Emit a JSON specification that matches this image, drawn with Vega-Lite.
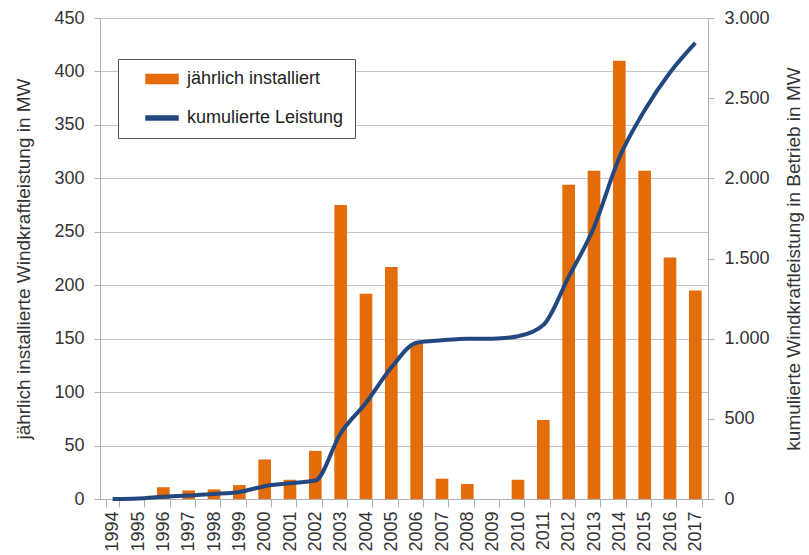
{
  "$schema": "https://vega.github.io/schema/vega-lite/v6.json",
  "autosize": "none",
  "width": 608,
  "height": 481,
  "padding": {"left": 100, "top": 18, "right": 101, "bottom": 56},
  "background": "white",
  "config": {
    "font": "Liberation Sans",
    "view": {"stroke": null},
    "axis": {
      "labelFont": "Liberation Sans",
      "titleFont": "Liberation Sans",
      "labelFontSize": 18,
      "titleFontSize": 19,
      "labelColor": "#333333",
      "titleColor": "#333333",
      "titleFontWeight": "normal",
      "domainColor": "#b0b0b0",
      "tickColor": "#b0b0b0",
      "gridColor": "#c4c4c4"
    }
  },
  "data": {
    "values": [
      {"Jahr": "1994", "jaehrlich": 0, "kumuliert": 0},
      {"Jahr": "1995", "jaehrlich": 0, "kumuliert": 3},
      {"Jahr": "1996", "jaehrlich": 11, "kumuliert": 14},
      {"Jahr": "1997", "jaehrlich": 8, "kumuliert": 22},
      {"Jahr": "1998", "jaehrlich": 9, "kumuliert": 31},
      {"Jahr": "1999", "jaehrlich": 13, "kumuliert": 44},
      {"Jahr": "2000", "jaehrlich": 37, "kumuliert": 80},
      {"Jahr": "2001", "jaehrlich": 18, "kumuliert": 98},
      {"Jahr": "2002", "jaehrlich": 45, "kumuliert": 115},
      {"Jahr": "2003", "jaehrlich": 275, "kumuliert": 410},
      {"Jahr": "2004", "jaehrlich": 192, "kumuliert": 600},
      {"Jahr": "2005", "jaehrlich": 217, "kumuliert": 820},
      {"Jahr": "2006", "jaehrlich": 146, "kumuliert": 975},
      {"Jahr": "2007", "jaehrlich": 19, "kumuliert": 990},
      {"Jahr": "2008", "jaehrlich": 14, "kumuliert": 1000},
      {"Jahr": "2009", "jaehrlich": 0, "kumuliert": 1000},
      {"Jahr": "2010", "jaehrlich": 18, "kumuliert": 1015},
      {"Jahr": "2011", "jaehrlich": 74, "kumuliert": 1085},
      {"Jahr": "2012", "jaehrlich": 294, "kumuliert": 1385},
      {"Jahr": "2013", "jaehrlich": 307, "kumuliert": 1695},
      {"Jahr": "2014", "jaehrlich": 410, "kumuliert": 2130},
      {"Jahr": "2015", "jaehrlich": 307, "kumuliert": 2425},
      {"Jahr": "2016", "jaehrlich": 226, "kumuliert": 2660},
      {"Jahr": "2017", "jaehrlich": 195, "kumuliert": 2845}
    ]
  },
  "encoding": {
    "x": {
      "field": "Jahr",
      "type": "nominal",
      "scale": {"paddingInner": 0.5, "paddingOuter": 0.25},
      "axis": {
        "title": null,
        "labelAngle": -90,
        "labelAlign": "right",
        "labelBaseline": "middle",
        "labelPadding": 4,
        "tickBand": "extent",
        "tickSize": 8,
        "domainColor": "#b0b0b0"
      }
    }
  },
  "layer": [
    {
      "mark": {"type": "bar", "color": "#E46C0A"},
      "encoding": {
        "y": {
          "field": "jaehrlich",
          "type": "quantitative",
          "scale": {"domain": [0, 450]},
          "axis": {
            "title": "jährlich installierte Windkraftleistung in MW",
            "values": [0, 50, 100, 150, 200, 250, 300, 350, 400, 450],
            "tickSize": 6,
            "labelPadding": 10,
            "titlePadding": 20,
            "grid": true
          }
        },
        "color": {
          "datum": "jährlich installiert",
          "type": "nominal",
          "scale": {"domain": ["jährlich installiert", "kumulierte Leistung"], "range": ["#E46C0A", "#22487F"]},
          "legend": {
            "title": null,
            "orient": "none",
            "legendX": 18,
            "legendY": 41,
            "direction": "vertical",
            "fillColor": "white",
            "strokeColor": "#555555",
            "padding": 11,
            "rowPadding": 21,
            "symbolSize": 225,
            "symbolOffset": 24,
            "labelOffset": 16,
            "labelFontSize": 18,
            "labelFont": "Liberation Sans",
            "labelColor": "#222222",
            "encode": {
              "symbols": {
                "update": {
                  "shape": {"signal": "datum.value === 'jährlich installiert' ? 'M-2.13,-0.6H2.13V0.6H-2.13Z' : 'M-2.13,-0.27H2.13V0.27H-2.13Z'"},
                  "fill": {"scale": "color", "field": "value"},
                  "stroke": {"value": "transparent"},
                  "opacity": {"value": 1}
                }
              }
            }
          }
        }
      }
    },
    {
      "mark": {"type": "line", "interpolate": "monotone", "strokeWidth": 4},
      "encoding": {
        "y": {
          "field": "kumuliert",
          "type": "quantitative",
          "scale": {"domain": [0, 3000]},
          "axis": {
            "orient": "right",
            "title": "kumulierte Windkraftleistung in Betrieb in MW",
            "titleAngle": 270,
            "values": [0, 500, 1000, 1500, 2000, 2500, 3000],
            "format": ",d",
            "labelExpr": "replace(datum.label, ',', '.')",
            "tickSize": 6,
            "labelPadding": 10,
            "titlePadding": 34,
            "grid": false
          }
        },
        "color": {"datum": "kumulierte Leistung", "type": "nominal"}
      }
    }
  ],
  "resolve": {"scale": {"y": "independent"}}
}
